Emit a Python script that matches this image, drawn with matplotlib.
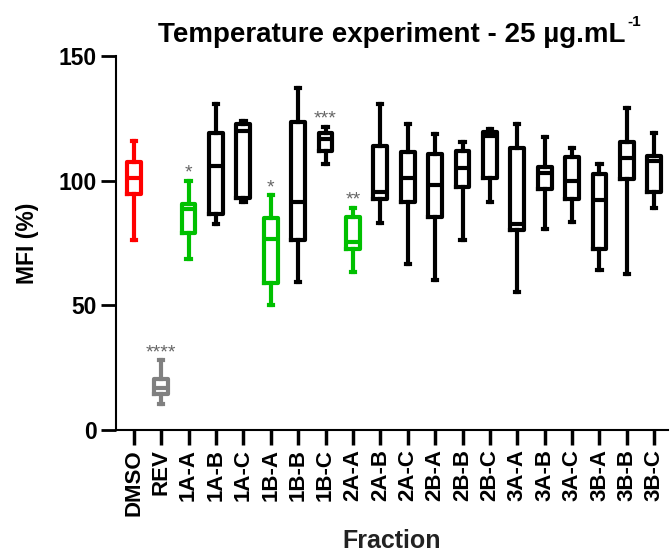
import matplotlib.pyplot as plt

plt.rcParams['font.family'] = ['Liberation Sans', 'DejaVu Sans']

# fractions and box statistics (MFI %)
fractions = ["DMSO", "REV", "1A-A", "1A-B", "1A-C", "1B-A", "1B-B", "1B-C", "2A-A", "2A-B",
             "2A-C", "2B-A", "2B-B", "2B-C", "3A-A", "3A-B", "3A-C", "3B-A", "3B-B", "3B-C"]
whis_low = [76, 10.5, 68.5, 82.5, 91.5, 50, 59.5, 106.5, 63.5, 83,
            66.5, 60, 76, 91.5, 55.5, 80.5, 83.5, 64, 62.5, 89]
q1 = [94.5, 14.5, 79, 86.5, 93, 59, 76, 112, 72.5, 92.5,
      91.5, 85.5, 97.5, 101, 80, 96.5, 92.5, 72.5, 100.5, 95.5]
median = [101, 17, 88.5, 106, 120, 76.5, 91.5, 116.5, 75.5, 95.5,
          101, 98, 105, 118, 82.5, 103, 100, 92, 109, 108]
q3 = [107.5, 20.5, 90.5, 119, 122.5, 85, 123.5, 119, 85.5, 114,
      111.5, 110.5, 112, 119.5, 113, 105.5, 109.5, 102.5, 115.5, 110]
whis_high = [116, 28, 100, 130.5, 124, 94, 137, 121.5, 89, 130.5,
             122.5, 118.5, 115.5, 120.5, 122.5, 117.5, 113, 106.5, 129, 119]
colors = ["#ff0000", "#808080", "#00c000", "black", "black", "#00c000", "black", "black", "#00c000", "black",
          "black", "black", "black", "black", "black", "black", "black", "black", "black", "black"]
stars = {1: "****", 2: "*", 5: "*", 7: "***", 8: "**"}

fig, ax = plt.subplots(figsize=(6.7, 5.52), dpi=100)
fig.subplots_adjust(left=0.173, right=0.997, bottom=0.221, top=0.899)

lw = 3.0
for i in range(len(fractions)):
    st = [{"med": median[i], "q1": q1[i], "q3": q3[i],
           "whislo": whis_low[i], "whishi": whis_high[i], "fliers": []}]
    c = colors[i]
    ax.bxp(st, positions=[i], widths=0.5, capwidths=0.16, showfliers=False,
           boxprops=dict(color=c, linewidth=lw),
           medianprops=dict(color=c, linewidth=lw),
           whiskerprops=dict(color=c, linewidth=lw),
           capprops=dict(color=c, linewidth=lw))

# significance stars
for i, s in stars.items():
    ax.text(i, whis_high[i] + 3, s, ha="center", va="center", fontsize=14, color="#666666")

ax.set_xlim(-0.65, 19.5)
ax.set_ylim(0, 150)
ax.set_yticks([0, 50, 100, 150])
ax.set_xticks(range(len(fractions)))
ax.set_xticklabels(fractions, rotation=90, fontsize=16, fontweight="bold")
for lab in ax.get_yticklabels():
    lab.set_fontsize(16.5)
    lab.set_fontweight("bold")
ax.tick_params(axis="y", length=11, width=2, pad=3)
ax.tick_params(axis="x", length=11, width=2.5, pad=3)

for side in ["top", "right"]:
    ax.spines[side].set_visible(False)
ax.spines["left"].set_linewidth(1.5)
ax.spines["bottom"].set_linewidth(1.5)

ax.set_ylabel("MFI (%)", fontsize=16.5, fontweight="bold", labelpad=14)
ax.set_xlabel("Fraction", fontsize=18, fontweight="semibold", color="#222222", labelpad=9)
title = ax.set_title("Temperature experiment - 25 µg.mL", fontsize=20, fontweight="bold", pad=10)

# small superscript "-1" after the title
ax.annotate("-1", xy=(1.0, 1.0), xycoords=title, xytext=(1, 5), textcoords="offset points",
            fontsize=11, fontweight="bold", ha="left", va="top")

plt.savefig("out.png")
